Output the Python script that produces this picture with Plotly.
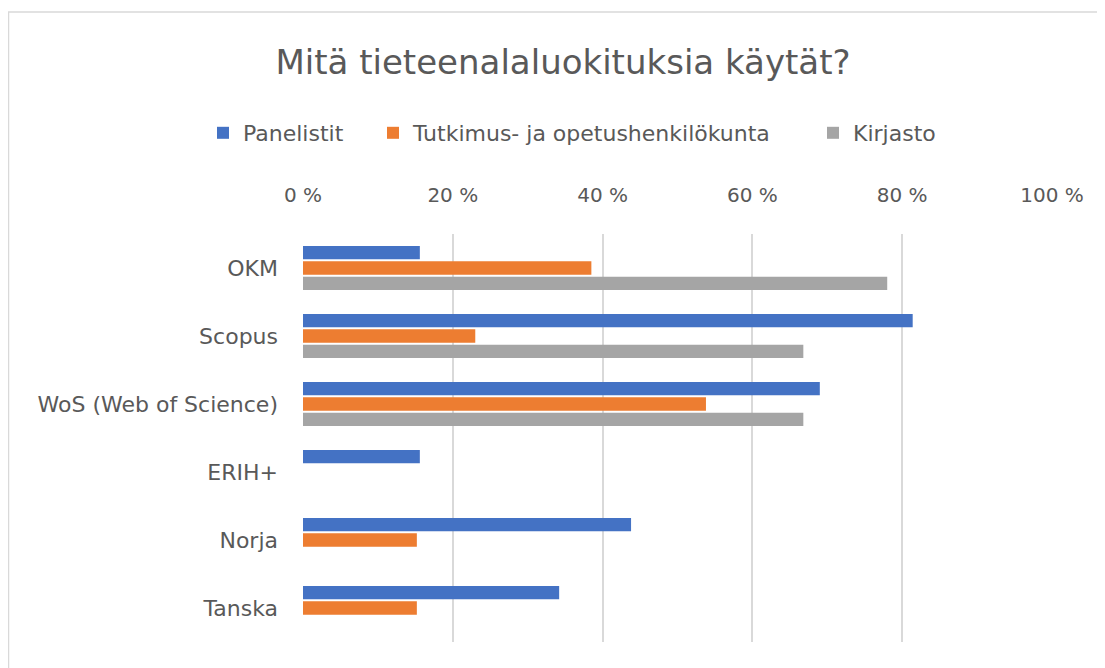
import plotly.graph_objects as go

categories = ["OKM", "Scopus", "WoS (Web of Science)", "ERIH+", "Norja", "Tanska"]
series_names = ["Panelistit", "Tutkimus- ja opetushenkilökunta", "Kirjasto"]
panelistit = [15.6, 81.4, 69.0, 15.6, 43.8, 34.2]
tutkimus = [38.5, 23.0, 53.8, None, 15.2, 15.2]
kirjasto = [78.0, 66.8, 66.8, None, None, None]
tick_vals = [0, 20, 40, 60, 80, 100]
tick_text = ["0 %", "20 %", "40 %", "60 %", "80 %", "100 %"]
colors = ["#4472C4", "#ED7D31", "#A5A5A5"]

FONT = "'DejaVu Sans', sans-serif"
TXT = "#595959"

# page body has an 8px margin; figure coordinates = screen coordinates - 8
OFF = 8
W, H = 1105 - OFF, 668 - OFF
L, R, T, B = 303 - OFF, 1105 - 1052, 234 - OFF, 668 - 642
pw, ph = W - L - R, H - T - B

legend_ids = ["legend", "legend2", "legend3"]
legend_left = [213, 383, 823]  # screen x of each legend swatch

fig = go.Figure()
for name, vals, col, lg in zip(series_names, [panelistit, tutkimus, kirjasto], colors, legend_ids):
    fig.add_trace(go.Bar(
        y=categories, x=vals, name=name, orientation="h", legend=lg,
        marker=dict(color=col, line=dict(width=0)),
    ))

legend_common = dict(orientation="h", xref="container", yref="container",
                     xanchor="left", yanchor="middle", y=1 - (133 - OFF) / H,
                     font=dict(size=22, color=TXT, family=FONT), itemwidth=30,
                     bgcolor="rgba(0,0,0,0)")
legends = {}
for lg, xl in zip(legend_ids, legend_left):
    legends[lg] = dict(legend_common, x=(xl - 10 - OFF) / W)

fig.update_layout(
    width=W, height=H,
    margin=dict(l=L, r=R, t=T, b=B, autoexpand=False),
    paper_bgcolor="white", plot_bgcolor="white",
    barmode="group", bargap=0.32, bargroupgap=0.13,
    font=dict(family=FONT, color=TXT, size=20),
    title=dict(text="Mitä tieteenalaluokituksia käytät?", x=(563 - OFF) / W, xref="container",
               y=1 - (62 - OFF) / H, yref="container", xanchor="center", yanchor="middle",
               font=dict(family=FONT, size=34, color=TXT)),
    xaxis=dict(side="top", range=[0, 100], tickvals=tick_vals, ticktext=tick_text,
               showgrid=True, gridcolor="#D9D9D9", gridwidth=1.5, zeroline=False,
               showline=False, ticks="", tickfont=dict(size=20, color=TXT), ticklabelstandoff=27),
    yaxis=dict(autorange="reversed", showgrid=False, showline=False, ticks="",
               tickfont=dict(size=22, color=TXT), ticklabelstandoff=24),
    showlegend=True,
    **legends,
)

# chart-area border
fig.add_shape(type="rect", xref="paper", yref="paper",
              x0=(0.5 - L) / pw, x1=(W + 20 - L) / pw,
              y0=(H - B - (H + 20)) / ph, y1=(H - B - (12 - OFF)) / ph,
              line=dict(color="#D9D9D9", width=1.5), fillcolor="rgba(0,0,0,0)", layer="below")

fig.write_html("out.html")
